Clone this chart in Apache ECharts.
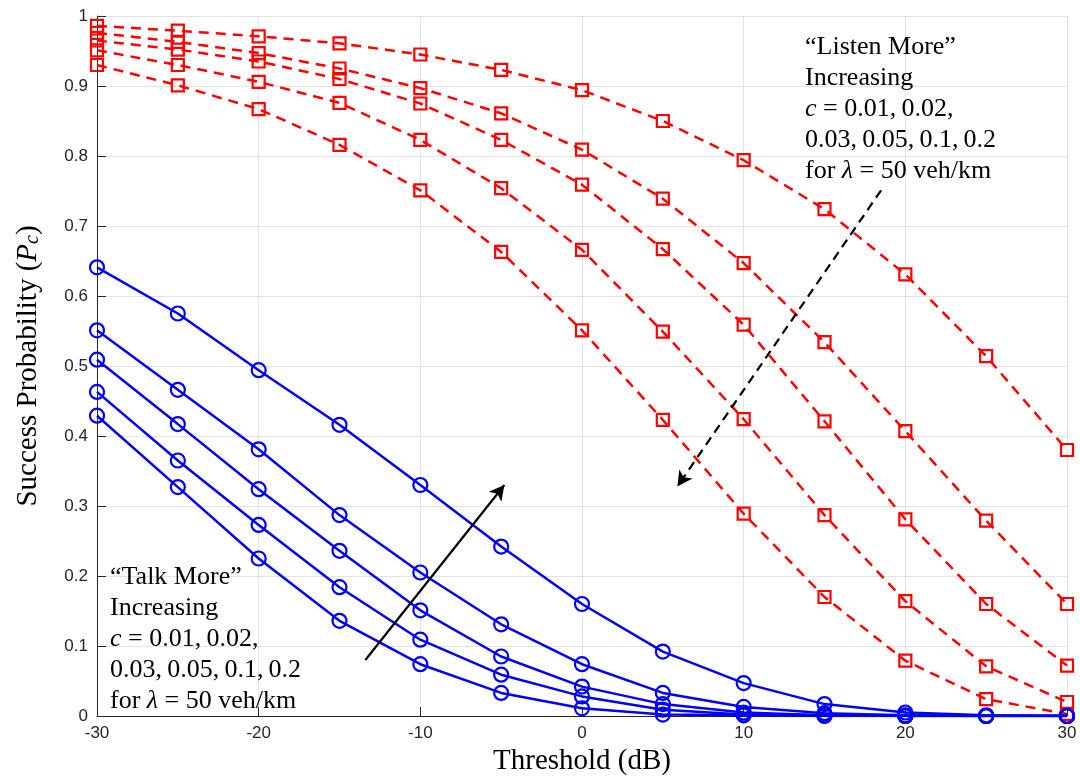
<!DOCTYPE html>
<html>
<head>
<meta charset="utf-8">
<script src="https://cdn.jsdelivr.net/npm/echarts@6/dist/echarts.min.js"></script>
<style>
  html, body { margin: 0; padding: 0; background: #ffffff; }
  #chart { width: 1080px; height: 782px; }
</style>
</head>
<body>
<div id="chart"></div>
<script>
// SINR threshold (dB)
const thresholds = [-30, -25, -20, -15, -10, -5, 0, 5, 10, 15, 20, 25, 30];

// "Listen More": success probability for increasing c (dashed red, squares)
const listen1 = [0.986, 0.979, 0.971, 0.961, 0.945, 0.923, 0.894, 0.850, 0.794, 0.724, 0.631, 0.514, 0.380];
const listen2 = [0.976, 0.963, 0.947, 0.925, 0.897, 0.861, 0.809, 0.739, 0.647, 0.534, 0.407, 0.279, 0.160];
const listen3 = [0.965, 0.952, 0.935, 0.910, 0.875, 0.823, 0.759, 0.667, 0.559, 0.421, 0.281, 0.160, 0.072];
const listen4 = [0.951, 0.930, 0.906, 0.876, 0.823, 0.754, 0.666, 0.549, 0.424, 0.287, 0.164, 0.071, 0.020];
const listen5 = [0.930, 0.901, 0.867, 0.816, 0.751, 0.663, 0.551, 0.423, 0.289, 0.170, 0.079, 0.024, 0.003];

// "Talk More": success probability for increasing c (solid blue, circles)
const talk1 = [0.641, 0.575, 0.494, 0.416, 0.330, 0.242, 0.160, 0.092, 0.047, 0.017, 0.005, 0.001, 0.000];
const talk2 = [0.551, 0.466, 0.381, 0.287, 0.205, 0.131, 0.074, 0.033, 0.013, 0.004, 0.001, 0.000, 0.000];
const talk3 = [0.509, 0.417, 0.324, 0.236, 0.151, 0.085, 0.042, 0.017, 0.005, 0.001, 0.000, 0.000, 0.000];
const talk4 = [0.463, 0.365, 0.273, 0.184, 0.109, 0.059, 0.028, 0.009, 0.002, 0.001, 0.000, 0.000, 0.000];
const talk5 = [0.429, 0.327, 0.225, 0.136, 0.074, 0.033, 0.011, 0.002, 0.001, 0.000, 0.000, 0.000, 0.000];

const listenSeries = [listen1, listen2, listen3, listen4, listen5];
const talkSeries = [talk1, talk2, talk3, talk4, talk5];

// Axis ticks
const xTicks = { min: -30, max: 30, step: 10 };
const yTicks = { min: 0, max: 1, step: 0.1 };

// Annotation arrows, in data units (threshold, probability)
const listenArrow = [[18.5, 0.751], [5.9, 0.328]];
const talkArrow = [[-13.4, 0.080], [-4.8, 0.330]];

const RED = '#ff0000';
const BLUE = '#0000ff';
const AXIS = '#262626';
const SERIF = '"Liberation Serif", "Times New Roman", serif';
const SANS = '"Liberation Sans", Arial, Helvetica, sans-serif';

function pairs(vals) {
  return thresholds.map((t, i) => [t, vals[i]]);
}

const series = [];

listenSeries.forEach((vals, k) => {
  series.push({
    name: 'listen' + (k + 1),
    type: 'line',
    data: pairs(vals),
    symbol: 'rect',
    symbolSize: 12,
    showAllSymbol: true,
    lineStyle: { color: RED, width: 2.5, type: [10, 7] },
    itemStyle: { color: 'rgba(0,0,0,0)', borderColor: RED, borderWidth: 2.2 },
    emphasis: { disabled: true },
    z: 2
  });
});

talkSeries.forEach((vals, k) => {
  series.push({
    name: 'talk' + (k + 1),
    type: 'line',
    data: pairs(vals),
    symbol: 'circle',
    symbolSize: 14,
    showAllSymbol: true,
    lineStyle: { color: BLUE, width: 2.5, type: 'solid' },
    itemStyle: { color: 'rgba(0,0,0,0)', borderColor: BLUE, borderWidth: 2.2 },
    emphasis: { disabled: true },
    z: 3
  });
});

function arrowLine(pts, ls) {
  return [
    { coord: pts[0], symbol: 'none', lineStyle: ls },
    { coord: pts[1], symbol: 'arrow', symbolSize: [12, 15], lineStyle: ls, itemStyle: { color: '#000' } }
  ];
}

series.push({
  name: 'arrows',
  type: 'line',
  data: [],
  silent: true,
  z: 4,
  markLine: {
    silent: true,
    animation: false,
    symbol: ['none', 'arrow'],
    label: { show: false },
    emphasis: { disabled: true },
    data: [
      arrowLine(listenArrow, { color: '#000', width: 2.2, type: [9, 6] }),
      arrowLine(talkArrow, { color: '#000', width: 2.2, type: 'solid' })
    ]
  }
});

// Text blocks
const listenLines = ['\u201CListen More\u201D', 'Increasing', '{i|c} = 0.01,\u20090.02,', '0.03,\u20090.05,\u20090.1,\u20090.2', 'for {i|\u03BB} = 50 veh/km'];
const talkLines = ['\u201CTalk More\u201D', 'Increasing', '{i|c} = 0.01,\u20090.02,', '0.03,\u20090.05,\u20090.1,\u20090.2', 'for {i|\u03BB} = 50 veh/km'];

const richStyle = {
  i: { fontFamily: SERIF, fontSize: 26, fontStyle: 'italic', fill: '#000' }
};

function textBlock(lines, x0, y0, dy) {
  return lines.map((t, i) => ({
    type: 'text',
    x: x0,
    y: y0 + i * dy,
    silent: true,
    z: 10,
    style: {
      text: t,
      fill: '#000',
      fontFamily: SERIF,
      fontSize: 26,
      align: 'left',
      verticalAlign: 'middle',
      rich: richStyle
    }
  }));
}

const option = {
  animation: false,
  backgroundColor: '#ffffff',
  grid: { left: 97, right: 13, top: 16, bottom: 66, containLabel: false },
  xAxis: {
    type: 'value',
    min: xTicks.min, max: xTicks.max, interval: xTicks.step,
    name: 'Threshold (dB)',
    nameLocation: 'middle',
    nameGap: 30,
    nameTextStyle: { fontFamily: SERIF, fontSize: 29, color: '#000' },
    axisLine: { show: true, onZero: false, lineStyle: { color: AXIS, width: 1 } },
    axisTick: { show: true, inside: true, length: 9, lineStyle: { color: AXIS } },
    axisLabel: { color: AXIS, fontFamily: SANS, fontSize: 17, margin: 9 },
    splitLine: { show: true, lineStyle: { color: '#e3e3e3', width: 1 } }
  },
  yAxis: {
    type: 'value',
    min: yTicks.min, max: yTicks.max, interval: yTicks.step,
    name: 'Success Probability ({i|P}{s|c})',
    nameLocation: 'middle',
    nameGap: 54,
    nameTextStyle: {
      fontFamily: SERIF, fontSize: 29, color: '#000',
      rich: {
        i: { fontFamily: SERIF, fontSize: 29, fontStyle: 'italic', color: '#000' },
        s: { fontFamily: SERIF, fontSize: 20, fontStyle: 'italic', color: '#000', verticalAlign: 'bottom', padding: [8, 0, 0, 0] }
      }
    },
    axisLine: { show: true, onZero: false, lineStyle: { color: AXIS, width: 1 } },
    axisTick: { show: true, inside: true, length: 9, lineStyle: { color: AXIS } },
    axisLabel: { color: AXIS, fontFamily: SANS, fontSize: 17, margin: 9 },
    splitLine: { show: true, lineStyle: { color: '#e3e3e3', width: 1 } }
  },
  series: series,
  graphic: textBlock(listenLines, 805, 47, 31).concat(textBlock(talkLines, 110, 577, 31))
};

const chart = echarts.init(document.getElementById('chart'), null, { renderer: 'canvas' });
chart.setOption(option);
</script>
</body>
</html>
